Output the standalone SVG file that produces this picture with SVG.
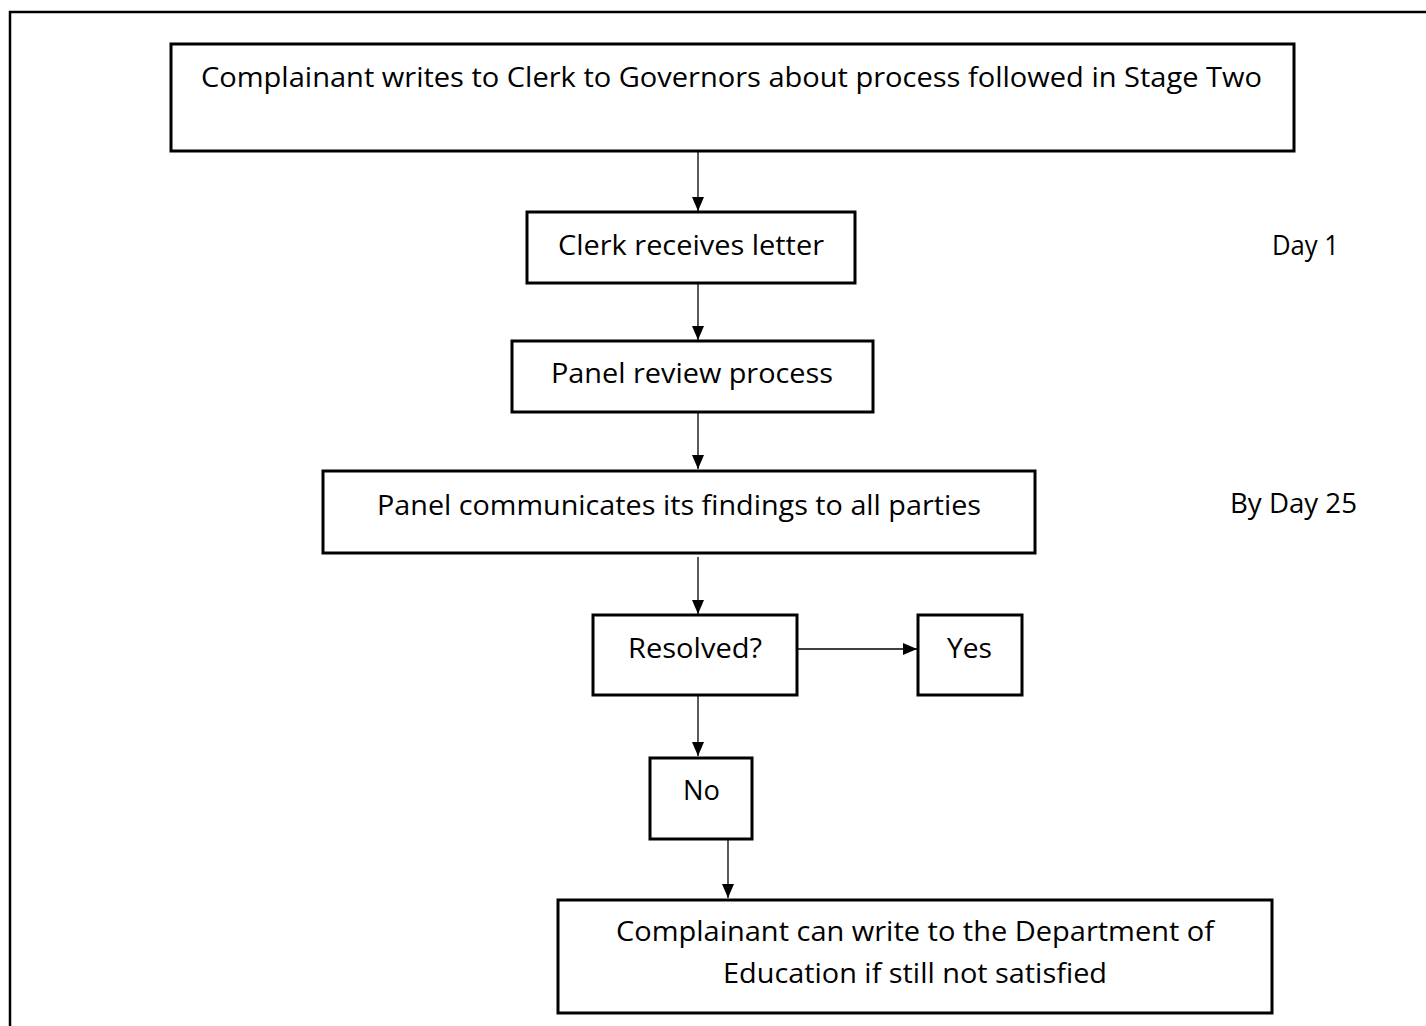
<svg xmlns="http://www.w3.org/2000/svg" width="1426" height="1026" viewBox="0 0 1426 1026">
<defs>
<style>
.box{fill:#fff;stroke:#000;stroke-width:3}
.t{font-family:"Open Sans","Noto Sans",sans-serif;font-size:28px;fill:#000}
.c{stroke:#000;stroke-width:1.3;fill:none;marker-end:url(#ah)}
</style>
<marker id="ah" markerWidth="14" markerHeight="12" refX="14" refY="6" orient="auto" markerUnits="userSpaceOnUse">
<path d="M0,0 L14,6 L0,12 Z" fill="#000"/>
</marker>
</defs>
<rect width="1426" height="1026" fill="#fff"/>
<rect x="10" y="12" width="1430" height="1030" fill="none" stroke="#000" stroke-width="2.5"/>
<g id="connectors">
<line class="c" x1="698" y1="152" x2="698" y2="211"/>
<line class="c" x1="698" y1="284" x2="698" y2="340"/>
<line class="c" x1="698" y1="413" x2="698" y2="469"/>
<line class="c" x1="698" y1="557" x2="698" y2="614"/>
<line class="c" x1="797" y1="649" x2="917" y2="649"/>
<line class="c" x1="698" y1="696" x2="698" y2="756"/>
<line class="c" x1="728" y1="840" x2="728" y2="898"/>
</g>
<g id="n1"><rect class="box" x="171" y="44" width="1123" height="107"/><text class="t" x="201" y="87" textLength="1061" lengthAdjust="spacingAndGlyphs">Complainant writes to Clerk to Governors about process followed in Stage Two</text></g>
<g id="n2"><rect class="box" x="527" y="212" width="328" height="71"/><text class="t" x="558" y="255" textLength="266" lengthAdjust="spacingAndGlyphs">Clerk receives letter</text></g>
<g id="n3"><rect class="box" x="512" y="341" width="361" height="71"/><text class="t" x="551" y="383" textLength="282" lengthAdjust="spacingAndGlyphs">Panel review process</text></g>
<g id="n4"><rect class="box" x="323" y="471" width="712" height="82"/><text class="t" x="377" y="515" textLength="604" lengthAdjust="spacingAndGlyphs">Panel communicates its findings to all parties</text></g>
<g id="n5"><rect class="box" x="593" y="615" width="204" height="80"/><text class="t" x="628" y="658" textLength="134" lengthAdjust="spacingAndGlyphs">Resolved?</text></g>
<g id="n6"><rect class="box" x="918" y="615" width="104" height="80"/><text class="t" x="947" y="658" textLength="45" lengthAdjust="spacingAndGlyphs">Yes</text></g>
<g id="n7"><rect class="box" x="650" y="758" width="102" height="81"/><text class="t" x="683" y="800" textLength="37" lengthAdjust="spacingAndGlyphs">No</text></g>
<g id="n8"><rect class="box" x="558" y="900" width="714" height="113"/><text class="t" x="915" y="941" text-anchor="middle" textLength="598" lengthAdjust="spacingAndGlyphs">Complainant can write to the Department of</text><text class="t" x="915" y="983" text-anchor="middle" textLength="384" lengthAdjust="spacingAndGlyphs">Education if still not satisfied</text></g>
<g id="day1"><text class="t" x="1272" y="255" textLength="67" lengthAdjust="spacingAndGlyphs">Day 1</text></g>
<g id="day25"><text class="t" x="1230" y="513" textLength="127" lengthAdjust="spacingAndGlyphs">By Day 25</text></g>
</svg>
